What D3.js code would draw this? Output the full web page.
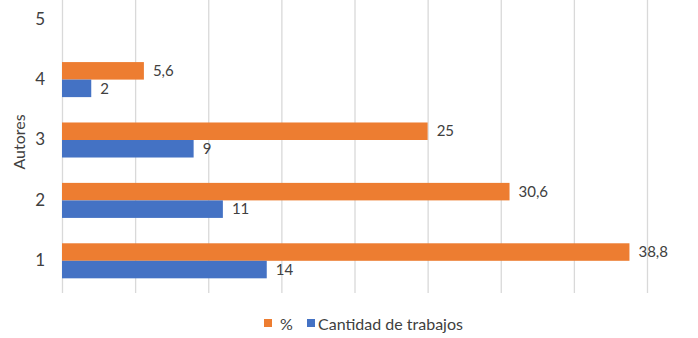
<!DOCTYPE html>
<html>
<head>
<meta charset="utf-8">
<script src="https://cdn.jsdelivr.net/npm/d3@7"></script>
<style>
  body { margin: 0; background: #fff; }
  svg { display: block; font-family: Lato, "Open Sans", sans-serif; }
</style>
</head>
<body>
<svg id="chart" width="698" height="338"></svg>
<script>
// Data
const categories = ['1', '2', '3', '4', '5'];
const percentValues = [38.8, 30.6, 25, 5.6, null];
const countValues = [14, 11, 9, 2, null];
const percentLabels = ['38,8', '30,6', '25', '5,6', ''];
const countLabels = ['14', '11', '9', '2', ''];
const xTicks = [0, 5, 10, 15, 20, 25, 30, 35, 40];
const seriesNames = ['%', 'Cantidad de trabajos'];

const COLORS = { ORANGE: '#ED7D31', BLUE: '#4472C4', GRID: '#d9d9d9', TEXT: '#404040' };

const svg = d3.select('#chart');
const width = +svg.attr('width');
const height = +svg.attr('height');
const margin = { top: -11, right: 51, bottom: 47, left: 62 };

// Scales
const xScale = d3.scaleLinear()
    .domain([0, 40])
    .range([margin.left, width - margin.right]);

const yScale = d3.scaleBand()
    .domain(categories)
    .range([height - margin.bottom, margin.top])
    .paddingInner(0.42)
    .paddingOuter(0.21);

const sub = d3.scaleBand()
    .domain(['pct', 'cnt'])
    .range([0, yScale.bandwidth()]);

// Vertical grid lines
svg.append('g')
    .attr('transform', `translate(0,${height - margin.bottom + 2})`)
    .call(d3.axisBottom(xScale).tickValues(xTicks).tickSize(-(height - margin.bottom + 2)).tickFormat(''))
    .call(g => g.select('.domain').remove())
    .call(g => g.selectAll('line').attr('stroke', COLORS.GRID).attr('stroke-width', 1.3));

// Bars
const rows = categories.map((c, i) => ({
    cat: c, pct: percentValues[i], cnt: countValues[i],
    pctLabel: percentLabels[i], cntLabel: countLabels[i]
})).filter(d => d.pct !== null);

const groups = svg.append('g')
    .selectAll('g')
    .data(rows)
    .enter()
    .append('g')
    .attr('transform', d => `translate(0,${yScale(d.cat)})`);

groups.append('rect')
    .attr('x', xScale(0))
    .attr('y', sub('pct'))
    .attr('width', d => xScale(d.pct) - xScale(0))
    .attr('height', sub.bandwidth())
    .attr('fill', COLORS.ORANGE);

groups.append('rect')
    .attr('x', xScale(0))
    .attr('y', sub('cnt'))
    .attr('width', d => xScale(d.cnt) - xScale(0))
    .attr('height', sub.bandwidth())
    .attr('fill', COLORS.BLUE);

// Data labels
groups.append('text')
    .attr('x', d => xScale(d.pct) + 9)
    .attr('y', sub('pct') + sub.bandwidth() / 2)
    .attr('dy', '0.35em')
    .attr('font-size', 15)
    .attr('fill', COLORS.TEXT)
    .text(d => d.pctLabel);

groups.append('text')
    .attr('x', d => xScale(d.cnt) + 9)
    .attr('y', sub('cnt') + sub.bandwidth() / 2)
    .attr('dy', '0.35em')
    .attr('font-size', 15)
    .attr('fill', COLORS.TEXT)
    .text(d => d.cntLabel);

// Y axis labels
svg.append('g')
    .attr('transform', `translate(${margin.left},0)`)
    .call(d3.axisLeft(yScale).tickSize(0).tickPadding(17))
    .call(g => g.select('.domain').remove())
    .call(g => g.selectAll('text').attr('font-size', 17).attr('fill', COLORS.TEXT).attr('font-family', 'Lato, sans-serif'));

// Y axis title
svg.append('text')
    .attr('transform', 'translate(25,142) rotate(-90)')
    .attr('text-anchor', 'middle')
    .attr('font-size', 16)
    .attr('fill', COLORS.TEXT)
    .text('Autores');

// Legend
const legend = svg.append('g').attr('transform', 'translate(264,324)');
legend.append('rect').attr('x', 0).attr('y', -5).attr('width', 8).attr('height', 8).attr('fill', COLORS.ORANGE);
legend.append('text').attr('x', 16).attr('y', 0).attr('dy', '0.35em').attr('font-size', 16).attr('fill', COLORS.TEXT).text(seriesNames[0]);
legend.append('rect').attr('x', 43).attr('y', -5).attr('width', 8).attr('height', 8).attr('fill', COLORS.BLUE);
legend.append('text').attr('x', 54).attr('y', 0).attr('dy', '0.35em').attr('font-size', 16).attr('fill', COLORS.TEXT).text(seriesNames[1]);
</script>
</body>
</html>
